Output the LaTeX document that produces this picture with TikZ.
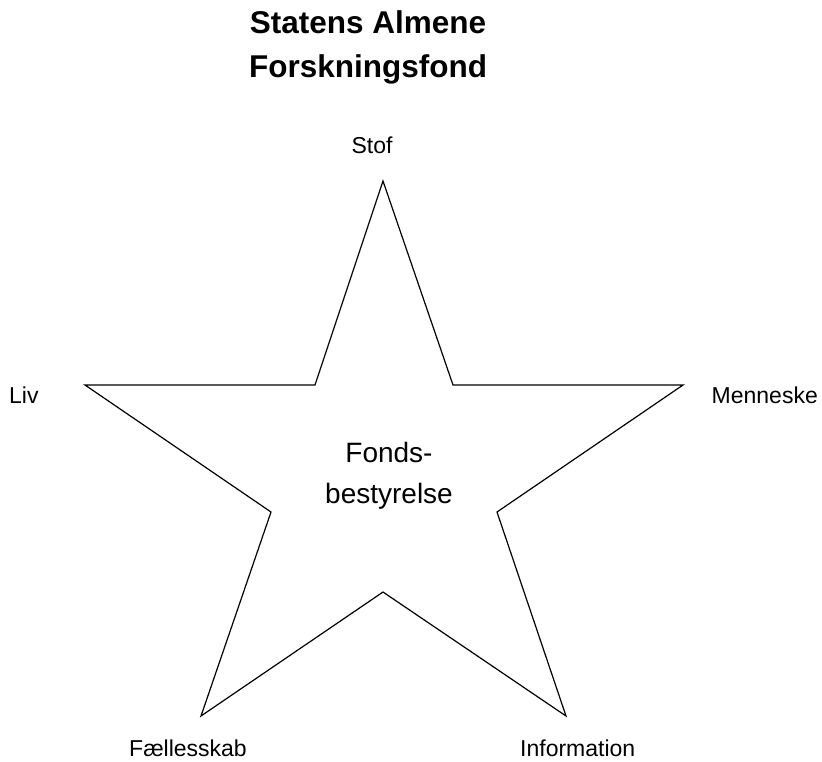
\documentclass[tikz,border=0pt]{standalone}
\usepackage{fontspec}
\setmainfont{Liberation Sans}
\begin{document}
\begin{tikzpicture}[x=1pt,y=-1pt,
  pointlabel/.style={inner sep=0pt,font=\fontsize{23}{27}\selectfont},
  titletext/.style={inner sep=0pt,anchor=base,font=\fontsize{31.5}{37}\selectfont\bfseries},
  centertext/.style={inner sep=0pt,anchor=base,font=\fontsize{28}{34}\selectfont},
  starline/.style={line width=1.2pt,line join=miter}]
  \useasboundingbox (0,0) rectangle (822,761);
  % Title
  \node[titletext] (title1) at (368,33) {Statens Almene};
  \node[titletext] (title2) at (368,77) {Forskningsfond};
  % Star: outer tips
  \coordinate (tiptop) at (383,181);
  \coordinate (tipright) at (683,385);
  \coordinate (tipbr) at (566,716);
  \coordinate (tipbl) at (201,716);
  \coordinate (tipleft) at (85,385);
  % Star: inner corners
  \foreach \n/\x/\y in {1/453/385, 2/497/512, 3/383/592, 4/271/512, 5/315/385} {
    \coordinate (in\n) at (\x,\y);
  }
  \draw[starline] (tiptop) -- (in1) -- (tipright) -- (in2) -- (tipbr) -- (in3)
    -- (tipbl) -- (in4) -- (tipleft) -- (in5) -- cycle;
  % Labels at the tips
  \node[pointlabel,anchor=base] (stof) at (372,153) {Stof};
  \node[pointlabel,anchor=base west] (liv) at (9,403) {Liv};
  \node[pointlabel,anchor=base east] (menneske) at (818,403) {Menneske};
  \node[pointlabel,anchor=base east] (faelles) at (247,756) {Fællesskab};
  \node[pointlabel,anchor=base west] (info) at (520,756) {Information};
  % Centre text
  \node[centertext] (fonds) at (389,462) {Fonds-};
  \node[centertext] (bestyr) at (389,503) {bestyrelse};
\end{tikzpicture}
\end{document}
